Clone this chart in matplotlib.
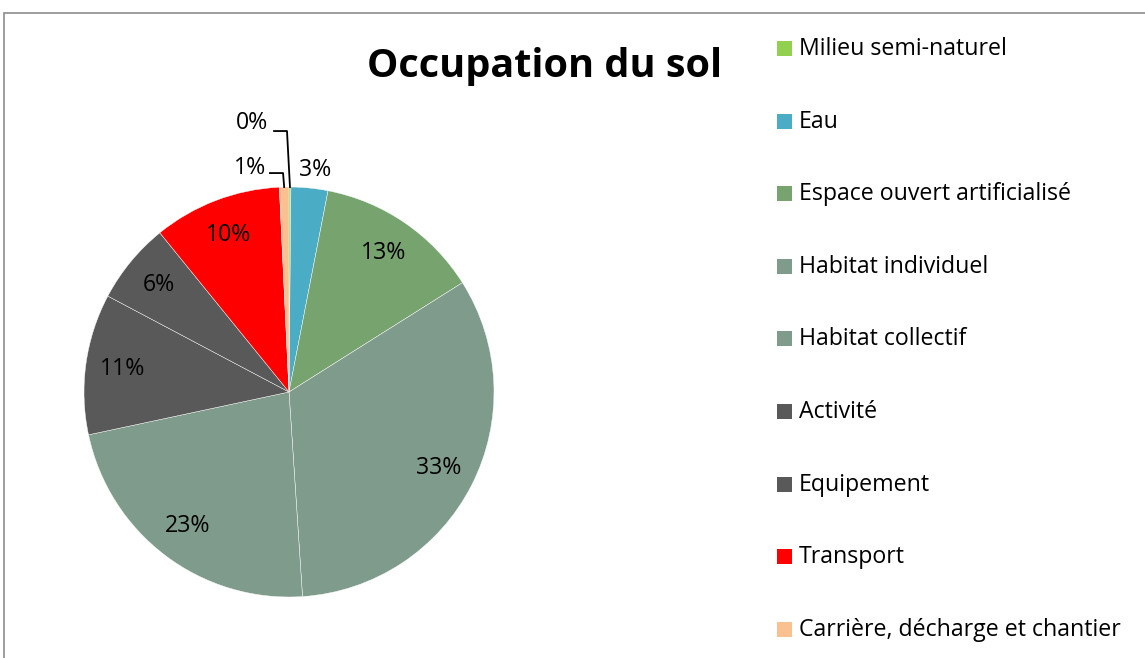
import matplotlib
matplotlib.use('Agg')
import matplotlib.pyplot as plt
from matplotlib.patches import Rectangle
import numpy as np

plt.rcParams['font.family'] = ['Open Sans', 'DejaVu Sans']

# occupation du sol, parts en %
categories = ['Milieu semi-naturel', 'Eau', 'Espace ouvert artificialisé',
              'Habitat individuel', 'Habitat collectif', 'Activité',
              'Equipement', 'Transport', 'Carrière, décharge et chantier']
values = [0.15, 2.9, 13.0, 32.9, 22.7, 11.1, 6.4, 10.1, 0.75]
colors = ['#92D050', '#4BACC6', '#77A36F', '#7E9B8C', '#7E9B8C',
          '#595959', '#595959', '#FF0000', '#FAC090']

W, H = 1145, 658
fig = plt.figure(figsize=(W / 100, H / 100), dpi=100)

# chart frame
fig.patches.append(Rectangle((4 / W, -0.1), 1.2, 1 - 13 / H + 0.1,
                             transform=fig.transFigure, fill=False,
                             edgecolor='#8c8c8c', linewidth=1.2))

# pie axes: centre (289, 392) px, radius 205 px
cx, cy, r = 289, 392, 205
ax = fig.add_axes([(cx - r) / W, (H - cy - r) / H, 2 * r / W, 2 * r / H])
wedges, _ = ax.pie(values, colors=colors, startangle=90, counterclock=False,
                   radius=1, wedgeprops=dict(edgecolor='white', linewidth=0.3))
ax.set_xlim(-1, 1)
ax.set_ylim(-1, 1)
ax.set_aspect('equal')
ax.axis('off')

pct = [f'{round(v):.0f}%' for v in values]
fs = 16.7

for i, w in enumerate(wedges):
    mid = np.deg2rad((w.theta1 + w.theta2) / 2)
    if values[i] >= 5:
        ax.text(0.82 * np.cos(mid), 0.82 * np.sin(mid), pct[i],
                ha='center', va='center', fontsize=fs)

# small slices labelled outside
mid = [np.deg2rad((w.theta1 + w.theta2) / 2) for w in wedges]
ax.text(0.127, 1.083, pct[1], ha='center', va='center', fontsize=fs, clip_on=False)
ax.text(-0.19, 1.093, pct[8], ha='center', va='center', fontsize=fs, clip_on=False)
ax.text(-0.18, 1.312, pct[0], ha='center', va='center', fontsize=fs, clip_on=False)
ax.plot([-0.093, -0.029, np.cos(mid[8])], [1.068, 1.068, np.sin(mid[8])],
        color='black', lw=1.3, clip_on=False)
ax.plot([-0.073, -0.0098, np.cos(mid[0])], [1.273, 1.273, np.sin(mid[0])],
        color='black', lw=1.3, clip_on=False)

fig.text(545 / W, 1 - 67 / H, 'Occupation du sol', ha='center', va='center',
         fontsize=28.5, fontweight='bold')

# legend
y0, dy = 49, 72.6
for i, (lab, col) in enumerate(zip(categories, colors)):
    y = y0 + i * dy
    fig.patches.append(Rectangle((777 / W, 1 - (y + 7) / H), 15 / W, 15 / H,
                                 transform=fig.transFigure, facecolor=col,
                                 edgecolor='none'))
    fig.text(799 / W, 1 - y / H, lab, ha='left', va='center', fontsize=fs)

fig.savefig('out.png', dpi=100)
